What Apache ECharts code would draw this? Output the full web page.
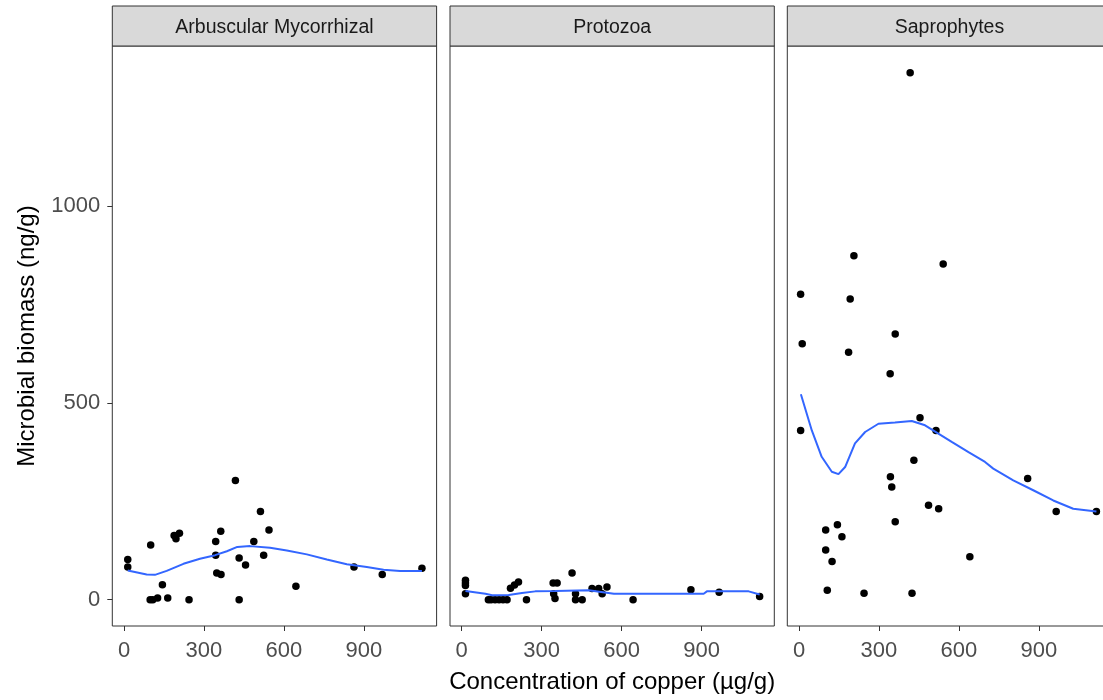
<!DOCTYPE html>
<html>
<head>
<meta charset="utf-8">
<script src="https://cdn.jsdelivr.net/npm/echarts@6/dist/echarts.min.js"></script>
<style>
  html, body { margin: 0; padding: 0; background: #fff; }
  #chart { width: 1103px; height: 700px; }
</style>
</head>
<body>
<div id="chart"></div>
<script>
// facet names
const panels = ['Arbuscular Mycorrhizal', 'Protozoa', 'Saprophytes']

// tick labels
const xTicks = [0, 300, 600, 900]
const yTicks = [0, 500, 1000]

// points: copper (µg/g) vs biomass (ng/g)
const amfX = [14, 14, 100, 98, 108, 126, 144, 164, 188, 195, 208, 244, 344, 344, 363, 348, 364, 418, 432, 432, 456, 487, 512, 524, 544, 645, 863, 969, 1118]
const amfY = [102, 83, 139, 0, 0, 4, 38, 4, 163, 155, 169, 0, 148, 113, 174, 68, 64, 303, 106, 0, 88, 148, 224, 113, 177, 34, 83, 64, 80]

const protoX = [14, 14, 14, 14, 100, 110, 125, 140, 155, 170, 183, 198, 213, 243, 343, 358, 345, 350, 414, 427, 427, 452, 489, 514, 527, 545, 643, 860, 966, 1118]
const protoY = [49, 42, 36, 15, 0, 0, 0, 0, 0, 0, 29, 37, 45, 0, 42, 42, 15, 3, 68, 15, 0, 0, 28, 28, 15, 32, 0, 25, 19, 8]

const saproX = [417, 206, 541, 6, 192, 361, 12, 186, 342, 6, 454, 514, 431, 343, 348, 486, 524, 361, 858, 965, 1116, 100, 144, 161, 100, 124, 641, 106, 244, 424]
const saproY = [1339, 874, 853, 776, 764, 675, 650, 629, 574, 430, 462, 430, 354, 312, 286, 240, 231, 198, 308, 224, 224, 177, 190, 160, 126, 97, 109, 24, 16, 16]

// loess fits
const amfFitX = [14, 85, 116, 160, 223, 285, 342, 386, 425, 473, 548, 611, 686, 761, 836, 911, 974, 1036, 1118]
const amfFitY = [74, 64, 63, 73, 91, 104, 113, 123, 134, 136, 132, 125, 115, 102, 90, 83, 76, 73, 73]

const protoFitX = [14, 89, 114, 176, 226, 276, 351, 476, 571, 908, 920, 1077, 1118]
const protoFitY = [22, 15, 11, 12, 17, 21, 22, 24, 15, 15, 21, 21, 13]

const saproFitX = [7, 48, 85, 123, 148, 173, 210, 248, 298, 360, 423, 473, 523, 573, 636, 698, 729, 804, 879, 954, 1029, 1116]
const saproFitY = [522, 430, 363, 325, 319, 337, 397, 426, 447, 450, 454, 443, 422, 401, 375, 350, 333, 303, 278, 252, 231, 224]

const pts = [[amfX, amfY], [protoX, protoY], [saproX, saproY]]
const fits = [[amfFitX, amfFitY], [protoFitX, protoFitY], [saproFitX, saproFitY]]

const zip = (xs, ys) => xs.map((x, i) => [x, ys[i]])

const font = '"Liberation Sans", Arial, sans-serif'
const panelLeft = [112.3, 450, 787.3]
const panelW = 324.3
const panelTop = 46
const panelH = 580

const grids = panelLeft.map(l => ({
  left: l, top: panelTop, width: panelW, height: panelH,
  outerBoundsMode: 'none', containLabel: false,
  show: true, borderColor: '#333333', borderWidth: 1, backgroundColor: '#fff'
}))

const xAxes = panelLeft.map((l, i) => ({
  type: 'value', gridIndex: i, min: -44, max: 1173,
  splitLine: { show: false },
  axisLine: { show: false, onZero: false },
  axisTick: { show: true, length: 5, customValues: xTicks, lineStyle: { color: '#333333' } },
  axisLabel: { customValues: xTicks, formatter: v => String(v), color: '#4D4D4D', fontSize: 22, fontFamily: font, margin: 14 },
  name: i === 1 ? 'Concentration of copper (µg/g)' : '',
  nameLocation: 'middle', nameGap: 44,
  nameTextStyle: { color: '#000', fontSize: 24, fontFamily: font }
}))

const yAxes = panelLeft.map((l, i) => ({
  type: 'value', gridIndex: i, min: -67, max: 1407,
  splitLine: { show: false },
  axisLine: { show: false, onZero: false },
  axisTick: { show: i === 0, length: 5, customValues: yTicks, lineStyle: { color: '#333333' } },
  axisLabel: { show: i === 0, customValues: yTicks, formatter: v => String(v), color: '#4D4D4D', fontSize: 22, fontFamily: font, margin: 12 },
  name: i === 0 ? 'Microbial biomass (ng/g)' : '',
  nameLocation: 'middle', nameGap: 73,
  nameTextStyle: { color: '#000', fontSize: 24, fontFamily: font }
}))

const series = []
panels.forEach((p, i) => {
  series.push({
    type: 'scatter', name: p, xAxisIndex: i, yAxisIndex: i,
    data: zip(pts[i][0], pts[i][1]),
    symbolSize: 7.5, itemStyle: { color: '#000', opacity: 1 }, z: 2
  })
  series.push({
    type: 'line', name: p + ' fit', xAxisIndex: i, yAxisIndex: i,
    data: zip(fits[i][0], fits[i][1]),
    showSymbol: false, symbol: 'none',
    lineStyle: { color: '#3366FF', width: 2 }, z: 3
  })
})

// strip headers
const strips = []
panels.forEach((p, i) => {
  strips.push({
    type: 'rect', shape: { x: panelLeft[i], y: 6, width: panelW, height: 40 },
    style: { fill: '#D9D9D9', stroke: '#333333', lineWidth: 1 }
  })
  strips.push({
    type: 'text', x: panelLeft[i] + panelW / 2, y: 28,
    style: { text: p, fill: '#1A1A1A', font: '19.5px ' + font, textAlign: 'center', textVerticalAlign: 'middle' }
  })
})

const chart = echarts.init(document.getElementById('chart'), null, { renderer: 'canvas' })
chart.setOption({
  animation: false,
  backgroundColor: '#fff',
  grid: grids,
  xAxis: xAxes,
  yAxis: yAxes,
  series: series,
  graphic: strips
})
</script>
</body>
</html>
